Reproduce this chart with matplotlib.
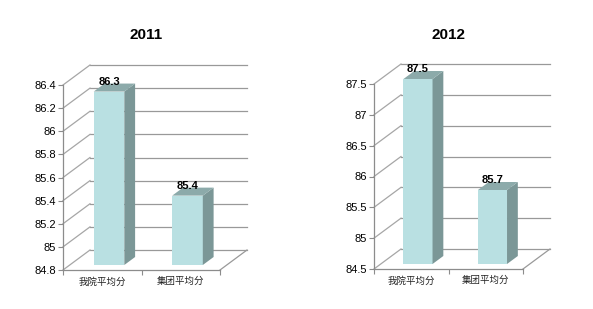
import matplotlib
matplotlib.use("Agg")
import matplotlib.pyplot as plt
from matplotlib.patches import Polygon

plt.rcParams['font.family'] = ['Liberation Sans', 'Noto Sans CJK SC', 'DejaVu Sans']

# data
categories = ['我院平均分', '集团平均分']
titles = ['2011', '2012']
values_2011 = [86.3, 85.4]
values_2012 = [87.5, 85.7]
ticks_2011 = [84.8, 85, 85.2, 85.4, 85.6, 85.8, 86, 86.2, 86.4]
ticks_2012 = [84.5, 85, 85.5, 86, 86.5, 87, 87.5]

front_col = '#b9e0e2'
side_col = '#7b9797'
top_col = '#8caaaa'
grid_col = '#999999'

W_PX, H_PX = 593, 309
DEPTH_X, DEPTH_Y = 27, 20   # pixel offset of back wall
BAR_FRONT = 0.25            # bar front plane as fraction of depth
BAR_DEPTH = 0.4
BAR_W = 0.39

fig = plt.figure(figsize=(W_PX / 100, H_PX / 100), dpi=100)
fig.patch.set_facecolor('white')


def draw_panel(rect, title, title_x, values, ticks):
    ax = fig.add_axes(rect)
    y0, y1 = ticks[0], ticks[-1]
    ax.set_xlim(-0.5, 1.5)
    ax.set_ylim(y0, y1)
    ax.patch.set_alpha(0)

    # pixel depth -> data units
    w_px = rect[2] * W_PX
    h_px = rect[3] * H_PX
    ddx = DEPTH_X * 2.0 / w_px
    ddy = DEPTH_Y * (y1 - y0) / h_px

    # back wall gridlines and left wall diagonals
    for t in ticks:
        ax.plot([-0.5 + ddx, 1.5 + ddx], [t + ddy, t + ddy], color=grid_col,
                lw=0.9, clip_on=False, zorder=1)
        ax.plot([-0.5, -0.5 + ddx], [t, t + ddy], color='#a6a6a6',
                lw=0.9, clip_on=False, zorder=1)
    # floor right edge
    ax.plot([1.5, 1.5 + ddx], [y0, y0 + ddy], color=grid_col, lw=0.9,
            clip_on=False, zorder=1)

    # bars
    fx, fy = BAR_FRONT * ddx, BAR_FRONT * ddy
    sx, sy = BAR_DEPTH * ddx, BAR_DEPTH * ddy
    for i, v in enumerate(values):
        xl = i - BAR_W / 2 + fx
        xr = i + BAR_W / 2 + fx
        b = y0 + fy
        t = v + fy
        ax.bar(i + fx, v - y0, bottom=b, width=BAR_W, color=front_col,
               lw=0, zorder=3, clip_on=False)
        ax.add_patch(Polygon([(xr, b), (xr + sx, b + sy), (xr + sx, t + sy), (xr, t)],
                             closed=True, facecolor=side_col, lw=0, zorder=3, clip_on=False))
        ax.add_patch(Polygon([(xl, t), (xr, t), (xr + sx, t + sy), (xl + sx, t + sy)],
                             closed=True, facecolor=top_col, lw=0, zorder=3, clip_on=False))
        ax.annotate(f'{v:g}', (i + fx, t), xytext=(0, 5), textcoords='offset points',
                    ha='center', va='baseline', fontsize=8, fontweight='bold',
                    zorder=4, annotation_clip=False)

    # axes styling
    for s in ['top', 'right']:
        ax.spines[s].set_visible(False)
    for s in ['left', 'bottom']:
        ax.spines[s].set_color('#8c8c8c')
        ax.spines[s].set_linewidth(0.9)
    ax.set_yticks(ticks)
    ax.set_yticklabels([f'{t:g}' for t in ticks])
    ax.tick_params(axis='y', length=3.5, width=0.8, color='#8c8c8c', pad=1.5,
                   labelsize=8)
    ax.set_xticks([-0.5, 0.5, 1.5])
    ax.set_xticklabels([])
    ax.tick_params(axis='x', which='major', length=3.5, width=0.8, color='#8c8c8c')
    ax.set_xticks([0, 1], minor=True)
    ax.set_xticklabels(categories, minor=True, family=['Noto Sans CJK SC', 'DejaVu Sans'],
                       fontsize=6.8, color='#222222')
    ax.tick_params(axis='x', which='minor', length=0, pad=5)

    fig.text(title_x / W_PX, 1 - 35 / H_PX, title, ha='center', va='center',
             fontsize=11, fontweight='bold')
    return ax


draw_panel([63 / W_PX, 1 - 270 / H_PX, 157 / W_PX, 185 / H_PX],
           titles[0], 146, values_2011, ticks_2011)
draw_panel([374 / W_PX, 1 - 269 / H_PX, 149 / W_PX, 185 / H_PX],
           titles[1], 449, values_2012, ticks_2012)

fig.savefig('out.png', dpi=100)
